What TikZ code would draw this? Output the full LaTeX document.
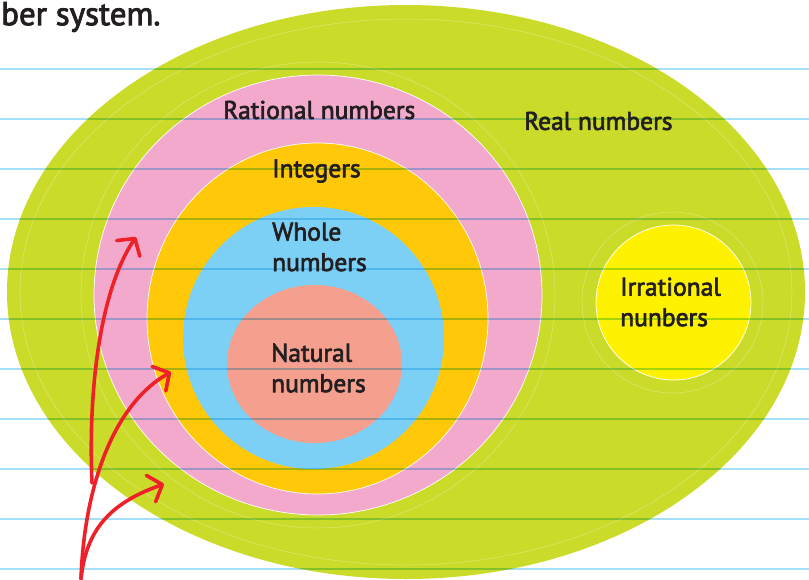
\documentclass[tikz,border=0pt]{standalone}
\usepackage{fontspec}
\newfontfamily\handfont[RawFeature={embolden=2.6}]{PT Sans}
\usetikzlibrary{shapes.geometric,arrows.meta}
\definecolor{cgreen}{HTML}{CBDB2A}
\definecolor{cpink}{HTML}{F3A9CB}
\definecolor{corange}{HTML}{FFC90A}
\definecolor{cblue}{HTML}{7CD0F5}
\definecolor{csalmon}{HTML}{F5A08F}
\definecolor{cyellow}{HTML}{FFF200}
\definecolor{cline}{HTML}{A6E0F8}
\definecolor{cred}{HTML}{EE2028}
\definecolor{cink}{HTML}{231F20}
\tikzset{
  region/.style={ellipse,inner sep=0pt,outer sep=0pt,draw=white,line width=0.7pt},
  bare/.style={ellipse,inner sep=0pt,outer sep=0pt},
  faint/.style={ellipse,inner sep=0pt,outer sep=0pt,draw=white,draw opacity=0.35,line width=0.5pt},
  rule/.style={cline,line width=2.7pt},
  label/.style={text=cink,anchor=west,align=left,inner sep=0pt,font=\fontsize{25.5}{30.5}\selectfont\handfont},
  titlelabel/.style={label,font=\fontsize{33}{36}\selectfont\handfont},
  redarrow/.style={cred,line width=3.6pt,line cap=round,-{Straight Barb[length=12pt,width=28pt,round]}},
}
\begin{document}
\begin{tikzpicture}[x=1pt,y=-1pt]
\useasboundingbox (0,0) rectangle (809,579);
\fill[white] (0,0) rectangle (809,579);
% ellipses
\node[bare,fill=cgreen,minimum width=798pt,minimum height=574pt] (real) at (406,292) {};
\node[faint,minimum width=772pt,minimum height=546pt] (realring) at (406,292) {};
\node[faint,minimum width=474pt,minimum height=466pt] (ratring) at (318,295) {};
\node[region,fill=cpink,minimum width=448pt,minimum height=440pt] (rational) at (318,295) {};
\node[region,fill=corange,minimum width=341pt,minimum height=351pt] (integers) at (317.5,318.5) {};
\node[bare,fill=cblue,minimum width=261pt,minimum height=262pt] (whole) at (313.5,338) {};
\node[bare,fill=csalmon,minimum width=175pt,minimum height=158pt] (natural) at (314.5,364) {};
\node[faint,minimum width=181pt,minimum height=181pt] (irrring) at (672.5,302.5) {};
\node[region,fill=cyellow,minimum width=155pt,minimum height=155pt] (irrational) at (673.5,302.5) {};
% ruled lines
\begin{scope}[blend mode=multiply]
\foreach \yy in {69,119,169,219,269,319,369,419,469,519,569}
  \draw[rule] (0,\yy) -- (809,\yy);
\end{scope}
% labels
\node[titlelabel] (title) at (1,17) {ber system.};
\node[label] (lrational) at (223,110) {Rational numbers};
\node[label] (lreal) at (524,121) {Real numbers};
\node[label] (lintegers) at (272,171) {Integers};
\node[label] (lwhole) at (272,247) {Whole\\numbers};
\node[label] (lnatural) at (271,368) {Natural\\numbers};
\node[label] (lirr) at (620,302) {Irrational\\nunbers};
% arrows
\coordinate (base) at (81,579);
\coordinate (fork) at (92,483);
\coordinate (tipa) at (136,237);
\coordinate (tipb) at (171,372);
\coordinate (tipc) at (164,484);
\draw[redarrow] (fork) .. controls (88,390) and (100,290) .. (tipa);
\draw[redarrow] (base) .. controls (84,490) and (112,405) .. (tipb);
\draw[redarrow] (base) .. controls (86,530) and (110,503) .. (tipc);
\end{tikzpicture}
\end{document}
